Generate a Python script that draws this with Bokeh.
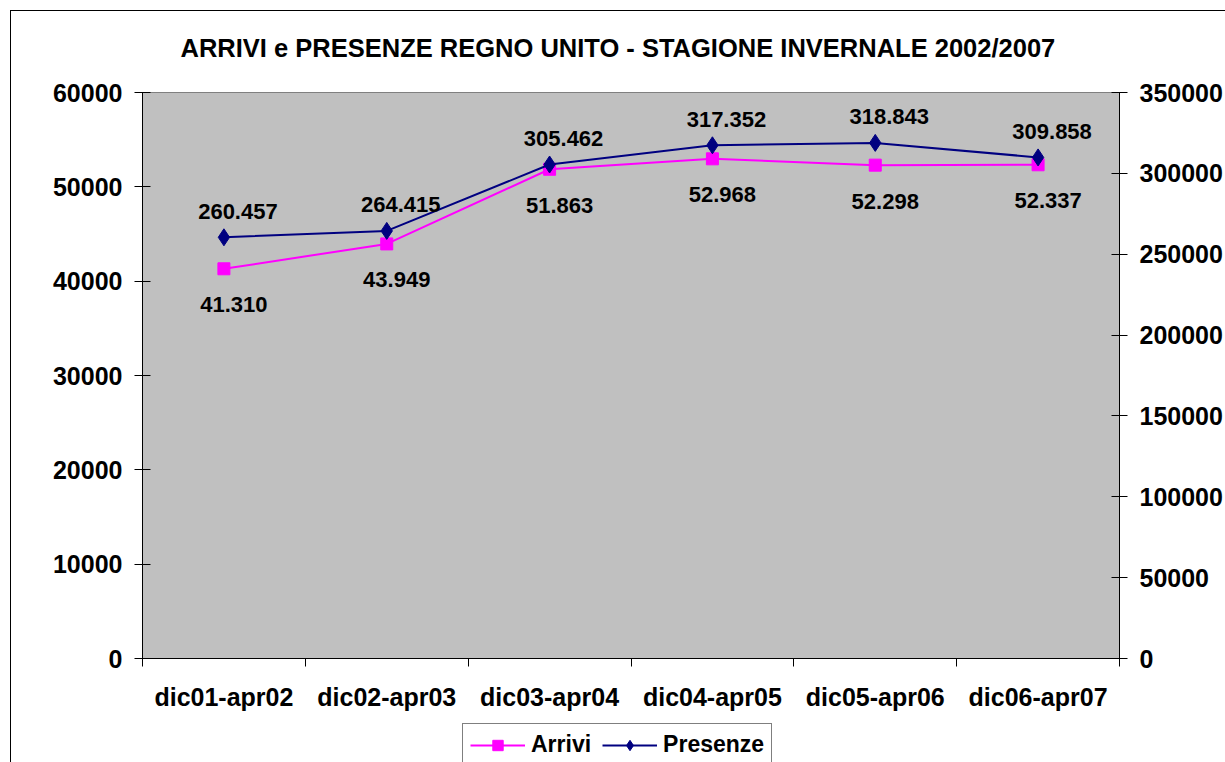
from bokeh.plotting import figure
from bokeh.layouts import column
from bokeh.models import (Range1d, LinearAxis, FixedTicker, NumeralTickFormatter,
                          Legend, LegendItem, ColumnDataSource)
from bokeh.core.properties import value
from bokeh.embed import file_html
from bokeh.resources import INLINE

categories = ["dic01-apr02", "dic02-apr03", "dic03-apr04", "dic04-apr05", "dic05-apr06", "dic06-apr07"]
arrivi = [41310, 43949, 51863, 52968, 52298, 52337]
presenze = [260457, 264415, 305462, 317352, 318843, 309858]
arrivi_labels = ["41.310", "43.949", "51.863", "52.968", "52.298", "52.337"]
presenze_labels = ["260.457", "264.415", "305.462", "317.352", "318.843", "309.858"]
left_ticks = [0, 10000, 20000, 30000, 40000, 50000, 60000]
right_ticks = [0, 50000, 100000, 150000, 200000, 250000, 300000, 350000]
series_names = ["Arrivi", "Presenze"]
title_text = "ARRIVI e PRESENZE REGNO UNITO - STAGIONE INVERNALE 2002/2007"

FONT = "Liberation Sans"
PINK = "#FF00FF"
NAVY = "#000080"
n = len(categories)
xs = [i + 0.5 for i in range(n)]

src = ColumnDataSource(dict(x=xs, a=arrivi, p=presenze, al=arrivi_labels, pl=presenze_labels))

# ---- title strip ----
t = figure(width=1214, height=66, output_backend="svg", toolbar_location=None,
           x_range=Range1d(0, 1), y_range=Range1d(0, 1),
           x_axis_location=None, y_axis_location=None,
           min_border_left=0, min_border_right=0, min_border_top=50, min_border_bottom=0,
           background_fill_color="white", border_fill_color="white")
t.grid.visible = False
t.outline_line_color = None
t.title.text = title_text
t.title.align = "left"
t.title.offset = 38
t.title.standoff = 0
t.title.text_font = FONT
t.title.text_font_style = "bold"
t.title.text_font_size = "25.5px"
t.title.text_color = "black"

# ---- main chart ----
p = figure(width=1214, height=643, output_backend="svg", toolbar_location=None,
           x_range=Range1d(0, n), y_range=Range1d(0, 60000),
           min_border_left=131, min_border_right=106, min_border_top=15, min_border_bottom=62,
           background_fill_color="#C0C0C0", border_fill_color="white")
p.title.visible = False
p.extra_y_ranges = {"right": Range1d(0, 350000)}
p.grid.visible = False
p.outline_line_color = "#808080"
p.outline_line_width = 1

# x axis
xa = p.xaxis[0]
xa.ticker = FixedTicker(ticks=xs, minor_ticks=list(range(n + 1)))
xa.major_label_overrides = {x: c for x, c in zip(xs, categories)}
xa.major_tick_line_color = None
xa.major_tick_out = 0
xa.major_tick_in = 0
xa.minor_tick_line_color = "black"
xa.minor_tick_out = 8
xa.minor_tick_in = 0
xa.axis_line_color = "black"
xa.major_label_standoff = 16
xa.major_label_text_font = FONT
xa.major_label_text_font_style = "bold"
xa.major_label_text_font_size = "25px"
xa.major_label_text_color = "black"

# left axis
ya = p.yaxis[0]
ya.ticker = FixedTicker(ticks=left_ticks)
ya.formatter = NumeralTickFormatter(format="0")
ya.minor_tick_line_color = None
ya.major_tick_out = 8
ya.major_tick_in = 8
ya.major_label_standoff = 12
ya.major_label_text_font = FONT
ya.major_label_text_font_style = "bold"
ya.major_label_text_font_size = "25px"
ya.major_label_text_color = "black"
ya.axis_line_color = "black"

# right axis
ra = LinearAxis(y_range_name="right", ticker=FixedTicker(ticks=right_ticks),
                formatter=NumeralTickFormatter(format="0"))
ra.minor_tick_line_color = None
ra.major_tick_out = 8
ra.major_tick_in = 8
ra.major_label_standoff = 12
ra.major_label_text_font = FONT
ra.major_label_text_font_style = "bold"
ra.major_label_text_font_size = "25px"
ra.major_label_text_color = "black"
ra.axis_line_color = "black"
p.add_layout(ra, "right")

# series
p.line("x", "a", source=src, line_color=PINK, line_width=2)
p.scatter("x", "a", source=src, marker="square", size=12, fill_color=PINK, line_color=PINK)
p.line("x", "p", source=src, y_range_name="right", line_color=NAVY, line_width=2)
p.scatter("x", "p", source=src, y_range_name="right", marker="diamond", size=17,
          fill_color=NAVY, line_color=NAVY)

# data labels
p.text("x", "a", text="al", source=src, x_offset=10, y_offset=36, text_align="center",
       text_baseline="middle", text_font=value(FONT), text_font_style="bold",
       text_font_size="22px", text_color="black")
p.text("x", "p", text="pl", source=src, y_range_name="right", x_offset=14, y_offset=-26,
       text_align="center", text_baseline="middle", text_font=value(FONT),
       text_font_style="bold", text_font_size="22px", text_color="black")

# ---- legend strip (separate figure so the legend is not clipped) ----
q = figure(width=1214, height=42, output_backend="svg", toolbar_location=None,
           x_range=Range1d(0, n), y_range=Range1d(0, 1),
           x_axis_location=None, y_axis_location=None,
           min_border_left=0, min_border_right=0, min_border_top=0, min_border_bottom=0,
           background_fill_color="white", border_fill_color="white")
q.title.visible = False
q.grid.visible = False
q.outline_line_color = None
# same series, outside this strip's visible range: only used to draw the legend keys
qa_l = q.line("x", "a", source=src, line_color=PINK, line_width=2)
qa_s = q.scatter("x", "a", source=src, marker="square", fill_color=PINK, line_color=PINK)
qp_l = q.line("x", "p", source=src, line_color=NAVY, line_width=2)
qp_s = q.scatter("x", "p", source=src, marker="diamond", fill_color=NAVY, line_color=NAVY)
legend = Legend(items=[LegendItem(label=series_names[0], renderers=[qa_l, qa_s]),
                       LegendItem(label=series_names[1], renderers=[qp_l, qp_s])],
                orientation="horizontal", location=(320, -4),
                label_text_font=FONT, label_text_font_style="bold", label_text_font_size="23px",
                label_text_color="black",
                border_line_color="black", border_line_width=1, background_fill_color="white",
                background_fill_alpha=1, glyph_width=55, glyph_height=26, padding=7,
                spacing=11, label_standoff=6, margin=0)
q.add_layout(legend, "center")

layout = column(t, p, q, spacing=0,
                styles={"margin-left": "10px", "margin-top": "10px",
                        "border-left": "1px solid black", "border-top": "1px solid black"})

open("out.html", "w").write(file_html(layout, INLINE))
